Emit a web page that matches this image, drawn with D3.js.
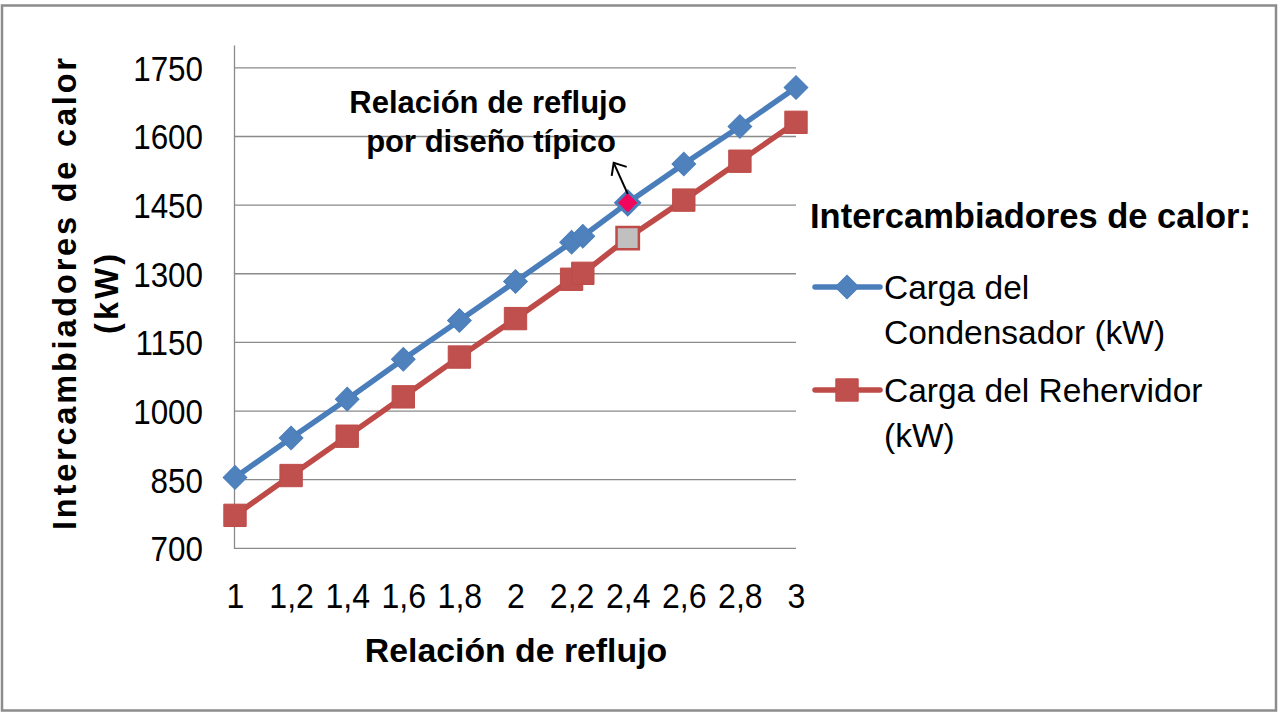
<!DOCTYPE html>
<html><head><meta charset="utf-8">
<script src="https://cdn.jsdelivr.net/npm/d3@7"></script>
<style>
html,body{margin:0;padding:0;background:#fff;}
svg text{font-family:"Liberation Sans",Arial,sans-serif;fill:#000;}
</style></head>
<body><svg id="c" width="1280" height="721"></svg>
<script>
const xValues = [1, 1.2, 1.4, 1.6, 1.8, 2, 2.2, 2.24, 2.4, 2.6, 2.8, 3];
const condensador = [855, 941, 1026, 1113, 1198, 1283, 1369, 1382, 1455, 1540, 1622, 1707];
const rehervidor = [772, 859, 945, 1031, 1118, 1202, 1288, 1301, 1378, 1461, 1546, 1631];
const xTicks = [1, 1.2, 1.4, 1.6, 1.8, 2, 2.2, 2.4, 2.6, 2.8, 3];
const xTickLabels = ["1", "1,2", "1,4", "1,6", "1,8", "2", "2,2", "2,4", "2,6", "2,8", "3"];
const yTicks = [700, 850, 1000, 1150, 1300, 1450, 1600, 1750];
const seriesNames = [["Carga del", "Condensador (kW)"], ["Carga del Rehervidor", "(kW)"]];
const highlightX = 2.4;

const svg = d3.select("#c");
const FONT = "'Liberation Sans', Arial, sans-serif";

// squeeze text horizontally a bit (reference glyphs are slightly condensed)
function squeeze(sel, f) {
  sel.each(function () {
    const w = this.getComputedTextLength();
    d3.select(this).attr("textLength", w * f).attr("lengthAdjust", "spacingAndGlyphs");
  });
}

// outer border
svg.append("rect").attr("x", 2).attr("y", 5.5).attr("width", 1274).attr("height", 705)
  .attr("fill", "none").attr("stroke", "#8c8c8c").attr("stroke-width", 2.5);

const x = d3.scaleLinear().domain([1, 3]).range([235, 796]);
const y = d3.scaleLinear().domain([700, 1800]).range([548.3, 45]);

// gridlines
svg.append("g").selectAll("line").data(yTicks).join("line")
  .attr("x1", 234).attr("x2", 796).attr("y1", d => y(d)).attr("y2", d => y(d))
  .attr("stroke", "#8a8a8a").attr("stroke-width", 1.3);

// y axis
const yAxis = d3.axisLeft(y).tickValues(yTicks).tickSize(0).tickPadding(31).tickFormat(d => d);
const gy = svg.append("g").attr("transform", "translate(234,0)").call(yAxis);
gy.select(".domain").attr("stroke", "#8a8a8a").attr("stroke-width", 1.3);
gy.selectAll("text").attr("font-size", 34.5).attr("font-family", FONT).attr("fill", "#000").attr("dy", "0.36em");
squeeze(gy.selectAll("text"), 0.91);

// x axis (labels only)
const xAxis = d3.axisBottom(x).tickValues(xTicks).tickSize(0).tickPadding(35)
  .tickFormat((d, i) => xTickLabels[i]);
const gx = svg.append("g").attr("transform", "translate(0,548.3)").call(xAxis);
gx.select(".domain").remove();
gx.selectAll("text").attr("font-size", 34.5).attr("font-family", FONT).attr("fill", "#000");
squeeze(gx.selectAll("text"), 0.93);

// axis titles
svg.append("text").attr("x", 516).attr("y", 662).attr("text-anchor", "middle")
  .attr("font-size", 33.8).attr("font-weight", "bold").text("Relación de reflujo");

const yt = svg.append("g").attr("transform", "translate(0,294) rotate(-90)");
yt.append("text").attr("x", 0).attr("y", 76).attr("text-anchor", "middle")
  .attr("font-size", 32.5).attr("font-weight", "bold")
  .attr("textLength", 472).attr("lengthAdjust", "spacing").text("Intercambiadores de calor");
yt.append("text").attr("x", 0).attr("y", 118).attr("text-anchor", "middle")
  .attr("font-size", 32.5).attr("font-weight", "bold")
  .attr("textLength", 80).attr("lengthAdjust", "spacing").text("(kW)");

// series
const blue = "#4a7ebb", blueFill = "#4f81bd";
const red = "#be4b48", redFill = "#c0504d";
const lineGen = arr => d3.line().x((d, i) => x(xValues[i])).y(d => y(d))(arr);

svg.append("path").attr("d", lineGen(rehervidor)).attr("fill", "none")
  .attr("stroke", red).attr("stroke-width", 5.5).attr("stroke-linejoin", "round");
svg.append("path").attr("d", lineGen(condensador)).attr("fill", "none")
  .attr("stroke", blue).attr("stroke-width", 5.5).attr("stroke-linejoin", "round");

svg.append("g").selectAll("path").data(rehervidor).join("path")
  .attr("transform", (d, i) => `translate(${x(xValues[i])},${y(d)})`)
  .attr("d", d3.symbol().type(d3.symbolSquare).size(500))
  .attr("fill", (d, i) => xValues[i] === highlightX ? "#c0c0c0" : redFill)
  .attr("stroke", red).attr("stroke-width", (d, i) => xValues[i] === highlightX ? 2.5 : 1);

svg.append("g").selectAll("path").data(condensador).join("path")
  .attr("transform", (d, i) => `translate(${x(xValues[i])},${y(d)}) rotate(45)`)
  .attr("d", d3.symbol().type(d3.symbolSquare).size(280))
  .attr("fill", (d, i) => xValues[i] === highlightX ? "#f0065c" : blueFill)
  .attr("stroke", blue).attr("stroke-width", (d, i) => xValues[i] === highlightX ? 3 : 1);

// annotation
const hx = x(highlightX), hy = y(condensador[xValues.indexOf(highlightX)]);
svg.append("text").attr("x", 488).attr("y", 113).attr("text-anchor", "middle")
  .attr("font-size", 31).attr("font-weight", "bold").text("Relación de reflujo");
svg.append("text").attr("x", 491).attr("y", 152).attr("text-anchor", "middle")
  .attr("font-size", 31).attr("font-weight", "bold").text("por diseño típico");
const tipX = hx - 14, tipY = hy - 40;
svg.append("line").attr("x1", hx).attr("y1", hy - 9).attr("x2", tipX).attr("y2", tipY)
  .attr("stroke", "#000").attr("stroke-width", 2);
svg.append("path").attr("d", `M${tipX + 13},${tipY + 4} L${tipX},${tipY} L${tipX - 2},${tipY + 13}`)
  .attr("fill", "none").attr("stroke", "#000").attr("stroke-width", 2);

// legend
svg.append("text").attr("x", 810).attr("y", 228).attr("font-size", 34.5).attr("font-weight", "bold")
  .text("Intercambiadores de calor:");
const legY = [287, 390];
const legColors = [[blue, blueFill], [red, redFill]];
legY.forEach((ly, k) => {
  svg.append("line").attr("x1", 815).attr("x2", 880).attr("y1", ly).attr("y2", ly)
    .attr("stroke", legColors[k][0]).attr("stroke-width", 5.5).attr("stroke-linecap", "round");
  const m = svg.append("path").attr("fill", legColors[k][1]).attr("stroke", legColors[k][0]).attr("stroke-width", 1);
  if (k === 0) m.attr("transform", `translate(847,${ly}) rotate(45)`).attr("d", d3.symbol().type(d3.symbolSquare).size(280)());
  else m.attr("transform", `translate(847,${ly})`).attr("d", d3.symbol().type(d3.symbolSquare).size(500)());
  seriesNames[k].forEach((t, j) => {
    svg.append("text").attr("x", 884).attr("y", ly + 12 + j * 45).attr("font-size", 33.5).text(t);
  });
});
</script></body></html>
